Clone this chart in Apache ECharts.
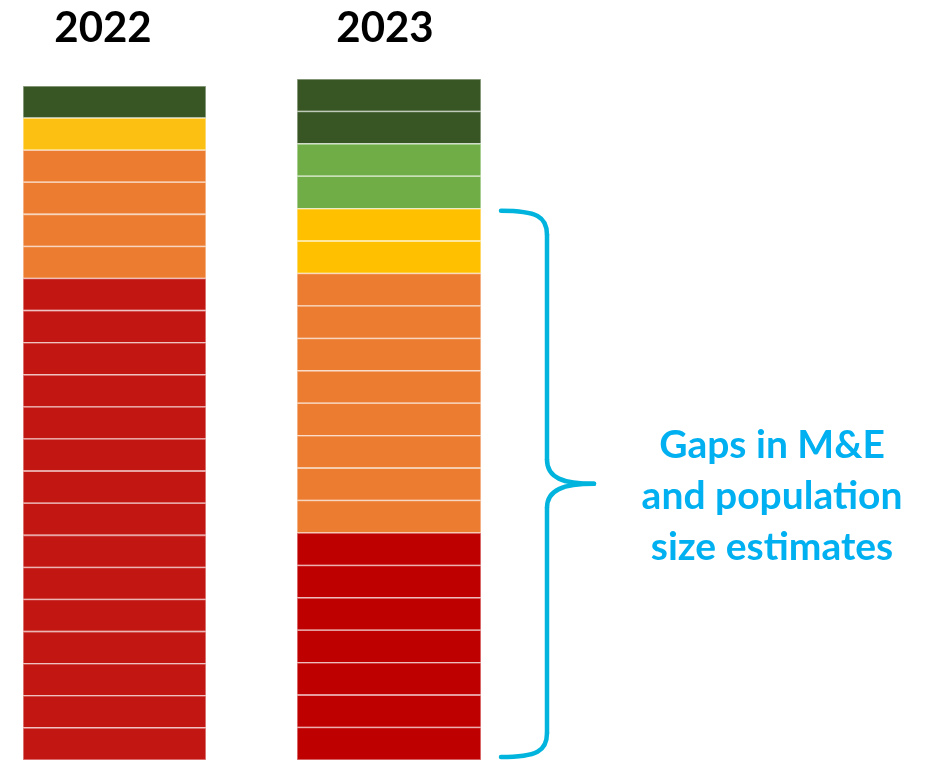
<!DOCTYPE html>
<html>
<head>
<meta charset="utf-8">
<script src="https://cdn.jsdelivr.net/npm/echarts@6/dist/echarts.min.js"></script>
<style>
  html, body { margin: 0; padding: 0; background: #fff; }
  #chart { width: 930px; height: 760px; }
</style>
</head>
<body>
<div id="chart"></div>
<script>
// number of cells per rating, top to bottom
var years = ['2022', '2023'];
var ratings = ['Dark green', 'Light green', 'Yellow', 'Orange', 'Red'];
var counts2022 = [1, 0, 1, 4, 15];
var counts2023 = [2, 2, 2, 8, 7];
var colors2022 = ['#375623', '#70AD47', '#FCC012', '#EC7C30', '#C11612'];
var colors2023 = ['#375623', '#70AD47', '#FFC000', '#EC7C30', '#BF0000'];
var braceLabel = 'Gaps in M&E\nand population\nsize estimates';

var chart = echarts.init(document.getElementById('chart'));

// expand counts into one cell per row
var toCells = function (counts) {
    var cells = [], n = 0;
    counts.forEach(function (c, r) {
        for (var k = 0; k < c; k++) {
            cells.push([n, r]);
            n++;
        }
    });
    return cells;
};

var cellRenderer = function (palette) {
    return function (params, api) {
        var i = api.value(0);
        var p0 = api.coord([0, i]);
        var p1 = api.coord([1, i + 1]);
        return {
            type: 'rect',
            shape: {x: p0[0], y: p0[1], width: p1[0] - p0[0], height: p1[1] - p0[1]},
            style: {fill: palette[api.value(1)], stroke: 'rgba(255,255,255,0.5)', lineWidth: 1.6}
        };
    };
};

var cells2022 = toCells(counts2022),
    cells2023 = toCells(counts2023);

var hiddenX = function (g) {
    return {type: 'value', gridIndex: g, min: 0, max: 1, show: false};
};
var hiddenY = function (g, n) {
    return {type: 'value', gridIndex: g, min: 0, max: n, inverse: true, show: false};
};

chart.setOption({
    animation: false,
    grid: [
        {left: 23, top: 86, width: 183, height: 674},
        {left: 297, top: 79, width: 184, height: 681}
    ],
    xAxis: [hiddenX(0), hiddenX(1)],
    yAxis: [hiddenY(0, cells2022.length), hiddenY(1, cells2023.length)],
    series: [
        {type: 'custom', xAxisIndex: 0, yAxisIndex: 0, renderItem: cellRenderer(colors2022), data: cells2022},
        {type: 'custom', xAxisIndex: 1, yAxisIndex: 1, renderItem: cellRenderer(colors2023), data: cells2023}
    ]
});

// brace spans the yellow, orange and red cells of 2023
var firstGap = counts2023[0] + counts2023[1];
var yTop = chart.convertToPixel({yAxisIndex: 1}, firstGap) + 2,
    yBot = chart.convertToPixel({yAxisIndex: 1}, cells2023.length) - 3,
    yMid = (yTop + yBot) / 2,
    xs = 501, xv = 547, xt = 594;

var braceStyle = {fill: null, stroke: '#00B4DE', lineWidth: 4.5, lineCap: 'round'};
var curve = function (x1, y1, c1x, c1y, c2x, c2y, x2, y2) {
    return {type: 'bezierCurve', shape: {x1: x1, y1: y1, cpx1: c1x, cpy1: c1y, cpx2: c2x, cpy2: c2y, x2: x2, y2: y2}, style: braceStyle};
};
var straight = function (y1, y2) {
    return {type: 'line', shape: {x1: xv, y1: y1, x2: xv, y2: y2}, style: braceStyle};
};

chart.setOption({
    graphic: [
        {type: 'text', x: 103, y: 28, style: {text: years[0], fill: '#000', font: 'bold 42px Lato', align: 'center', verticalAlign: 'middle'}},
        {type: 'text', x: 385, y: 28, style: {text: years[1], fill: '#000', font: 'bold 42px Lato', align: 'center', verticalAlign: 'middle'}},
        curve(xs, yTop, xv - 10, yTop, xv, yTop + 6, xv, yTop + 24),
        straight(yTop + 24, yMid - 24),
        curve(xv, yMid - 24, xv, yMid - 6, xv + 16, yMid, xt, yMid),
        curve(xt, yMid, xv + 16, yMid, xv, yMid + 6, xv, yMid + 24),
        straight(yMid + 24, yBot - 24),
        curve(xv, yBot - 24, xv, yBot - 6, xv - 10, yBot, xs, yBot),
        {type: 'text', x: 772, y: 496, style: {text: braceLabel, fill: '#00B0F0', font: 'bold 39px Lato', lineHeight: 51, align: 'center', verticalAlign: 'middle'}}
    ]
});
</script>
</body>
</html>
